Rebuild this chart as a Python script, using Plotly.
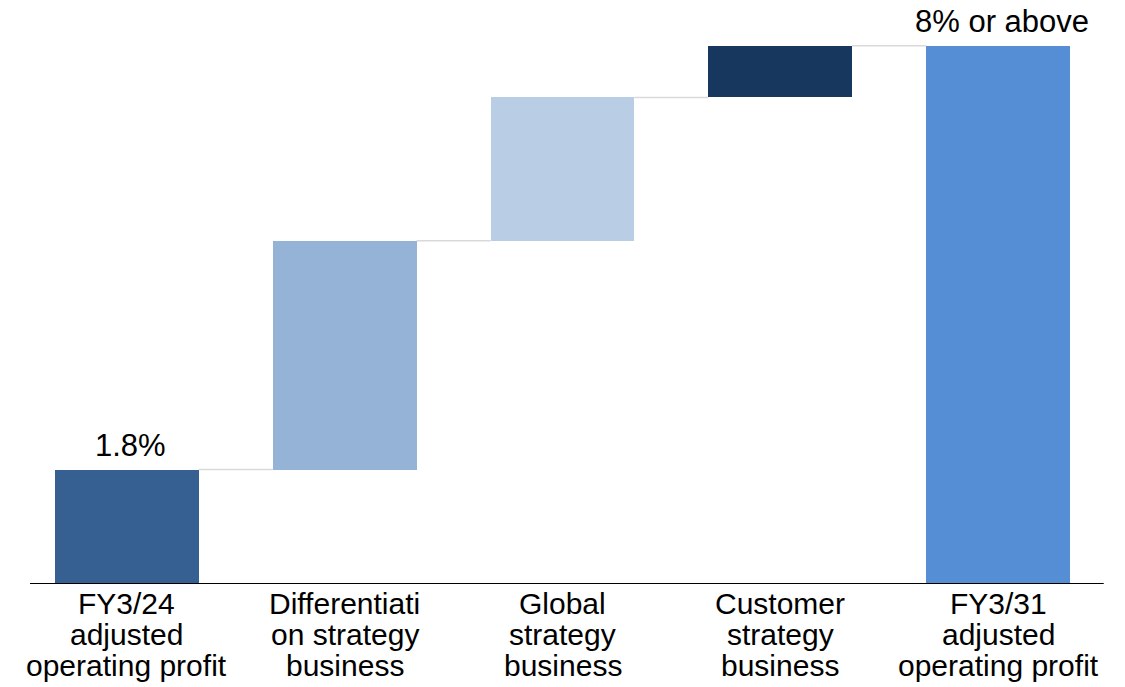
import plotly.graph_objects as go

# ---- data ----
categories = ["FY3/24 adjusted operating profit",
              "Differentiation strategy business",
              "Global strategy business",
              "Customer strategy business",
              "FY3/31 adjusted operating profit"]
label_lines = [["FY3/24", "adjusted", "operating profit"],
               ["Differentiati", "on strategy", "business"],
               ["Global", "strategy", "business"],
               ["Customer", "strategy", "business"],
               ["FY3/31", "adjusted", "operating profit"]]
values = [1.7, 3.4, 2.13, 0.77, 8.0]
measures = ["absolute", "relative", "relative", "relative", "total"]
value_labels = ["1.8%", None, None, None, "8% or above"]
colors = ["#376092", "#95B3D7", "#B9CDE5", "#17375E", "#558ED5"]

# ---- compute bases / tops ----
bases, heights, level = [], [], 0.0
for v, m in zip(values, measures):
    if m == "absolute":
        bases.append(0.0); heights.append(v); level = v
    elif m == "relative":
        bases.append(level); heights.append(v); level += v
    else:
        bases.append(0.0); heights.append(level)
tops = [b + h for b, h in zip(bases, heights)]

BAR_W = 0.66
FONT = "Liberation Sans, Arial, sans-serif"
FS = 30

fig = go.Figure(go.Bar(
    x=list(range(len(categories))), y=heights, base=bases,
    width=BAR_W, marker=dict(color=colors, line=dict(width=0)),
    hoverinfo="skip", showlegend=False,
))

shapes = []
# connectors
for i in range(len(categories) - 1):
    shapes.append(dict(type="line", xref="x", yref="y",
                       x0=i + BAR_W / 2, x1=i + 1 - BAR_W / 2,
                       y0=tops[i], y1=tops[i],
                       line=dict(color="#D9D9D9", width=1.5), layer="below"))
# baseline axis
shapes.append(dict(type="line", xref="paper", yref="y", x0=0.011, x1=0.997,
                   y0=0, y1=0, line=dict(color="black", width=2)))

annotations = []
for i, lab in enumerate(value_labels):
    if lab:
        annotations.append(dict(x=i, y=tops[i], xref="x", yref="y", text=lab,
                                showarrow=False, yanchor="bottom", yshift=5, xshift=4,
                                font=dict(family=FONT, size=31, color="black")))
for i, lines in enumerate(label_lines):
    for k, line in enumerate(lines):
        annotations.append(dict(x=i, y=0, xref="x", yref="y", text=line,
                                showarrow=False, yanchor="top", yshift=-1 - 31 * k,
                                font=dict(family=FONT, size=FS, color="black")))

fig.update_layout(
    width=1125, height=687,
    margin=dict(l=18, r=18, t=12, b=103),
    paper_bgcolor="white", plot_bgcolor="white",
    xaxis=dict(range=[-0.5, 4.5], showticklabels=False, showgrid=False,
               zeroline=False, showline=False, ticks=""),
    yaxis=dict(range=[0, 8.5], showticklabels=False, showgrid=False,
               zeroline=False, showline=False, ticks=""),
    shapes=shapes, annotations=annotations, bargap=0,
)

fig.write_html("out.html")
